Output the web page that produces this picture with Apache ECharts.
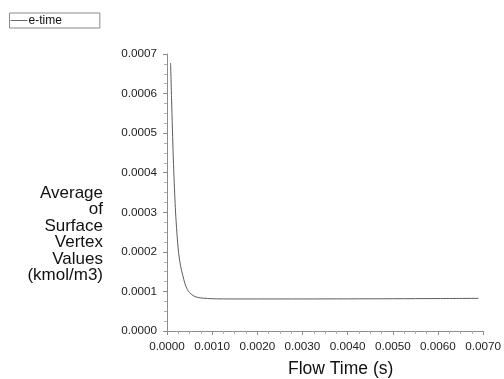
<!DOCTYPE html>
<html>
<head>
<meta charset="utf-8">
<script src="https://cdn.jsdelivr.net/npm/echarts@6/dist/echarts.min.js"></script>
<style>
  html, body { margin: 0; padding: 0; background: #fff; }
  #chart { width: 504px; height: 379px; }
</style>
</head>
<body>
<div id="chart"></div>
<script>
// Flow time (s) and the surface-averaged value (kmol/m3) of e-time
var flowTime = [0.00008, 0.0001, 0.00012, 0.00014, 0.00016, 0.00018, 0.0002,
  0.00025, 0.0003, 0.00035, 0.0004, 0.00045, 0.0005, 0.0006, 0.0007, 0.0008,
  0.001, 0.0015, 0.002, 0.003, 0.004, 0.005, 0.006, 0.0069];
var eTime = [0.000677, 0.00059, 0.00051, 0.000435, 0.000375, 0.000322, 0.00028,
  0.000205, 0.000165, 0.00014, 0.000119, 0.000105, 0.000097, 0.000088, 0.0000845, 0.000083,
  0.0000815, 0.000081, 0.000081, 0.000081, 0.0000812, 0.0000815, 0.000082, 0.0000825];
var seriesName = 'e-time';
var xTitle = 'Flow Time (s)';
var yTitle = 'Average\nof\nSurface\nVertex\nValues\n(kmol/m3)';

var FONT = '"Liberation Sans", Arial, sans-serif';
var points = flowTime.map(function (t, i) { return [t, eTime[i]]; });

var chart = echarts.init(document.getElementById('chart'), null, { renderer: 'canvas' });
chart.setOption({
  backgroundColor: '#ffffff',
  animation: false,
  grid: { left: 167, right: 18, top: 54, bottom: 48, containLabel: false },
  legend: {
    left: 9.5, top: 13,
    data: [seriesName],
    icon: 'rect',
    borderColor: '#8a8a8a', borderWidth: 1,
    padding: [1, 38, 1, 1],
    itemWidth: 17, itemHeight: 1,
    itemStyle: { color: '#6a6a6a', borderWidth: 0 },
    textStyle: { fontFamily: FONT, fontSize: 12, color: '#111', padding: [0, 0, 0, -4], lineHeight: 13 }
  },
  xAxis: {
    type: 'value', min: 0, max: 0.007, interval: 0.001,
    axisLine: { lineStyle: { color: '#8c8c8c', width: 1 } },
    axisTick: { show: true, inside: false, length: 4, lineStyle: { color: '#8c8c8c' } },
    minorTick: { show: true, splitNumber: 4, length: 3, lineStyle: { color: '#b0b0b0' } },
    splitLine: { show: false },
    axisLabel: {
      margin: 10, fontFamily: FONT, fontSize: 11.7, color: '#222',
      formatter: function (v) { return v.toFixed(4); }
    }
  },
  yAxis: {
    type: 'value', min: 0, max: 0.0007, interval: 0.0001,
    axisLine: { show: true, lineStyle: { color: '#8c8c8c', width: 1 } },
    axisTick: { show: true, inside: false, length: 4, lineStyle: { color: '#8c8c8c' } },
    minorTick: { show: true, splitNumber: 4, length: 3, lineStyle: { color: '#b0b0b0' } },
    splitLine: { show: false },
    axisLabel: {
      margin: 10, fontFamily: FONT, fontSize: 11.7, color: '#222',
      formatter: function (v) { return v.toFixed(4); }
    }
  },
  graphic: [
    {
      type: 'text', left: 288, top: 360,
      style: { text: xTitle, font: '17.5px ' + FONT, fill: '#111' }
    },
    {
      type: 'text', x: 103, y: 185,
      style: {
        text: yTitle, font: '17px ' + FONT, fill: '#111',
        align: 'right', textAlign: 'right', verticalAlign: 'top', lineHeight: 16.5
      }
    }
  ],
  series: [{
    name: seriesName,
    type: 'line',
    data: points,
    symbol: 'none',
    showSymbol: false,
    smooth: 0.3,
    lineStyle: { color: '#5c5c5c', width: 1 },
    itemStyle: { color: '#5c5c5c' }
  }]
});
</script>
</body>
</html>
